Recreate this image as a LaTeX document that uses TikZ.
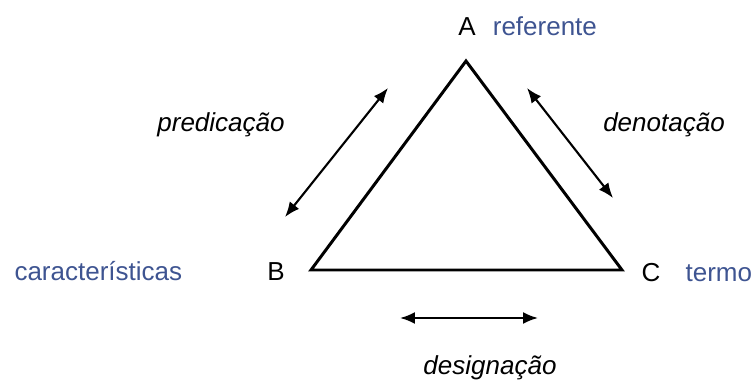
\documentclass[tikz,border=0pt]{standalone}
\usepackage{fontspec}
\setmainfont{Liberation Sans}
\usetikzlibrary{arrows.meta,positioning}
\definecolor{conceptblue}{RGB}{62,84,145}
\tikzstyle{corner} = [
  inner sep = 0pt, font = \fontsize{14.8}{17}\selectfont
]
\tikzstyle{concept} = [
  inner sep = 0pt, text = conceptblue, font = \fontsize{14.8}{17}\selectfont
]
\tikzstyle{relation} = [
  inner sep = 0pt, font = \fontsize{14.8}{17}\selectfont\itshape
]
\tikzstyle{side} = [line width = 1.7pt]
\tikzstyle{link} = [
  {Latex[length=3mm, width=2.4mm]}-{Latex[length=3mm, width=2.4mm]},
  line width = 1.2pt
]

\begin{document}
\begin{tikzpicture}[x=0.02cm, y=-0.02cm]
    \useasboundingbox (0,0) rectangle (755,388);
    % triangle corners
    \coordinate (apex) at (466,61);
    \coordinate (left) at (311,270);
    \coordinate (right) at (622,270);
    \draw[side, line join=miter] (left) -- (apex) -- (right) -- cycle;

    \node[corner] (a) at (467,27) {A};
    \node[concept, base right=0.33cm of a] (referente) {referente};
    \node[corner] (b) at (276,272) {B};
    \node[concept, base left=1.69cm of b] (caracteristicas) {características};
    \node[corner] (c) at (651,273) {C};
    \node[concept, base right=0.49cm of c] (termo) {termo};

    % arrows beside the sides
    \coordinate (pred1) at (388,88);
    \coordinate (pred2) at (285,217);
    \coordinate (deno1) at (527,88);
    \coordinate (deno2) at (613,198);
    \coordinate (desi1) at (400,318);
    \coordinate (desi2) at (538,318);
    \draw[link] (pred1) -- (pred2);
    \draw[link] (deno1) -- (deno2);
    \draw[link] (desi1) -- (desi2);

    \node[relation] (predicacao) at (221,125) {predicação};
    \node[relation] (denotacao) at (664,125) {denotação};
    \node[relation] (designacao) at (490,368) {designação};
\end{tikzpicture}
\end{document}
